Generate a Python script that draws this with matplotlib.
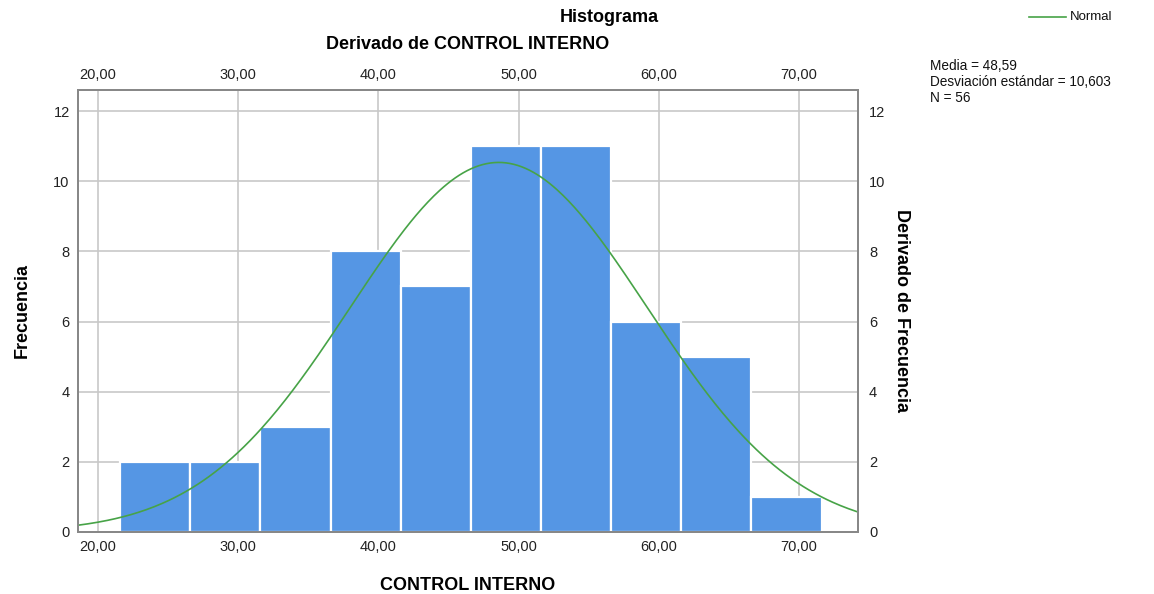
import numpy as np
import matplotlib
matplotlib.use("Agg")
import matplotlib.pyplot as plt

plt.rcParams['font.family'] = ['Liberation Sans', 'DejaVu Sans']

# histograma de CONTROL INTERNO
bin_edges = [21.6, 26.6, 31.6, 36.6, 41.6, 46.6, 51.6, 56.6, 61.6, 66.6, 71.6]
counts = [2, 2, 3, 8, 7, 11, 11, 6, 5, 1]
media = 48.59
desv = 10.603
n = 56
x_ticks = [20, 30, 40, 50, 60, 70]
y_ticks = [0, 2, 4, 6, 8, 10, 12]

fig = plt.figure(figsize=(11.54, 5.94), dpi=100)
ax = fig.add_axes([0.0676, 0.1044, 0.6759, 0.7441])

xmin, xmax = 18.6, 74.2
ymin, ymax = 0, 12.6

ax.set_axisbelow(True)
ax.grid(True, color='#c8c8c8', lw=1.2)

lefts = bin_edges[:-1]
widths = np.diff(bin_edges)
ax.bar(lefts, counts, width=widths, align='edge', color='#5596e4',
       edgecolor='white', linewidth=1.6)

# curva normal
xs = np.linspace(xmin, xmax, 400)
ys = n * widths[0] / (desv * np.sqrt(2 * np.pi)) * np.exp(-0.5 * ((xs - media) / desv) ** 2)
ax.plot(xs, ys, color='#47a347', lw=1.2)

ax.set_xlim(xmin, xmax)
ax.set_ylim(ymin, ymax)
ax.set_xticks(x_ticks)
ax.set_xticklabels([f"{v:.2f}".replace('.', ',') for v in x_ticks])
ax.set_yticks(y_ticks)
ax.tick_params(length=0, labelsize=10.5, colors='#222222', pad=6)

for s in ax.spines.values():
    s.set_color('#888888')
    s.set_linewidth(1.2)

ax_top = ax.twiny()
ax_top.set_xlim(xmin, xmax)
ax_top.set_xticks(x_ticks)
ax_top.set_xticklabels([f"{v:.2f}".replace('.', ',') for v in x_ticks])
ax_top.tick_params(length=0, labelsize=10.5, colors='#222222', pad=6)

ax_right = ax.twinx()
ax_right.set_ylim(ymin, ymax)
ax_right.set_yticks(y_ticks)
ax_right.tick_params(length=0, labelsize=10.5, colors='#222222', pad=8)
for a in (ax_top, ax_right):
    for s in a.spines.values():
        s.set_color('#888888')
        s.set_linewidth(1.2)

ax.set_xlabel('CONTROL INTERNO', fontsize=13, fontweight='bold', labelpad=16)
ax.set_ylabel('Frecuencia', fontsize=13, fontweight='bold', labelpad=16)
ax_right.set_ylabel('Derivado de Frecuencia', fontsize=13, fontweight='bold',
                    rotation=-90, labelpad=18)

fig.text(0.528, 0.97, 'Histograma', ha='center', va='center', fontsize=13, fontweight='bold')
fig.text(0.4056, 0.925, 'Derivado de CONTROL INTERNO', ha='center', va='center',
         fontsize=13, fontweight='bold')

fig.text(0.806, 0.862, 'Media = 48,59\nDesviación estándar = 10,603\nN = 56',
         ha='left', va='center', fontsize=9.8, linespacing=1.2, color='#111111')

fig.lines.append(plt.Line2D([0.892, 0.924], [0.972, 0.972], color='#47a347', lw=1.2,
                            transform=fig.transFigure))
fig.text(0.927, 0.972, 'Normal', ha='left', va='center', fontsize=9.5, color='#111111')

fig.savefig('out.png', dpi=100)
